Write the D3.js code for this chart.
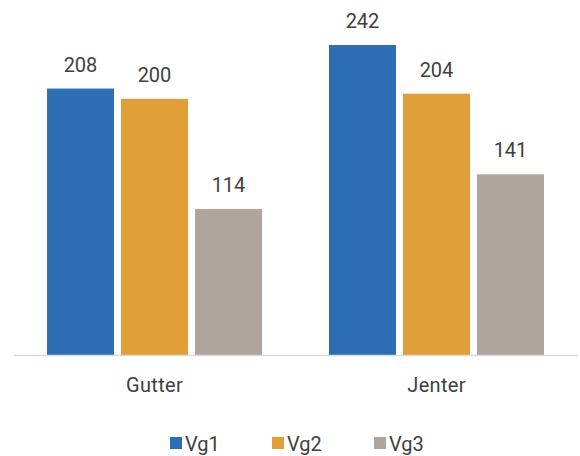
<!DOCTYPE html>
<html>
<head>
<meta charset="utf-8">
<script src="https://cdn.jsdelivr.net/npm/d3@7"></script>
<style>
  body { margin: 0; background: #fff; }
  svg text { font-family: Roboto, "Open Sans", sans-serif; fill: #404040; }
</style>
</head>
<body>
<svg id="chart" width="580" height="456"></svg>
<script>
//Data
const categories = ['Gutter', 'Jenter'];
const seriesNames = ['Vg1', 'Vg2', 'Vg3'];
const vg1 = [208, 242];
const vg2 = [200, 204];
const vg3 = [114, 141];
const colors = ['#2e6eb5', '#e09f38', '#ada59e'];

const allSeries = [vg1, vg2, vg3];
const baseY = 355;
const fontSize = 20;

var svg = d3.select('#chart');

//Scales
var x0 = d3.scaleBand()
    .domain(categories)
    .range([13.5, 577.5])
    .paddingInner(0.2376)
    .paddingOuter(0.1188);

var x1 = d3.scaleBand()
    .domain(seriesNames)
    .range([0, x0.bandwidth()])
    .paddingInner(0.0946);

var y = d3.scaleLinear()
    .domain([0, 250])
    .range([baseY, baseY - 250 * 1.281]);

//Bars, one group per category
var groups = svg.selectAll('g.cat')
    .data(categories)
    .enter().append('g')
    .attr('class', 'cat')
    .attr('transform', function(d) { return 'translate(' + x0(d) + ',0)'; });

groups.selectAll('rect')
    .data(function(d, i) { return seriesNames.map(function(s, j) { return {s: s, v: allSeries[j][i], c: colors[j]}; }); })
    .enter().append('rect')
    .attr('x', function(d) { return x1(d.s); })
    .attr('y', function(d) { return y(d.v); })
    .attr('width', x1.bandwidth())
    .attr('height', function(d) { return baseY - y(d.v); })
    .attr('fill', function(d) { return d.c; });

//Value labels
groups.selectAll('text.val')
    .data(function(d, i) { return seriesNames.map(function(s, j) { return {s: s, v: allSeries[j][i]}; }); })
    .enter().append('text')
    .attr('class', 'val')
    .attr('x', function(d) { return x1(d.s) + x1.bandwidth() / 2; })
    .attr('y', function(d) { return y(d.v) - 17; })
    .attr('text-anchor', 'middle')
    .attr('font-size', fontSize)
    .text(function(d) { return d.v; });

//X axis line + category labels
var xAxis = svg.append('g')
    .attr('transform', 'translate(0,' + baseY + ')')
    .call(d3.axisBottom(x0).tickSize(0).tickPadding(23));
xAxis.select('.domain').attr('stroke', '#d9d9d9').attr('stroke-width', 1.5);
xAxis.selectAll('.tick text')
    .attr('font-size', fontSize)
    .style('font-family', 'Roboto, sans-serif')
    .style('letter-spacing', '0.3px')
    .attr('fill', '#404040');

//Legend
var legendX = [170, 272, 374];
var legend = svg.selectAll('g.leg')
    .data(seriesNames)
    .enter().append('g')
    .attr('class', 'leg')
    .attr('transform', function(d, i) { return 'translate(' + legendX[i] + ',437)'; });

legend.append('rect')
    .attr('width', 12)
    .attr('height', 12)
    .attr('fill', function(d, i) { return colors[i]; });

legend.append('text')
    .attr('x', 15)
    .attr('y', 14)
    .attr('font-size', fontSize)
    .text(function(d) { return d; });
</script>
</body>
</html>
